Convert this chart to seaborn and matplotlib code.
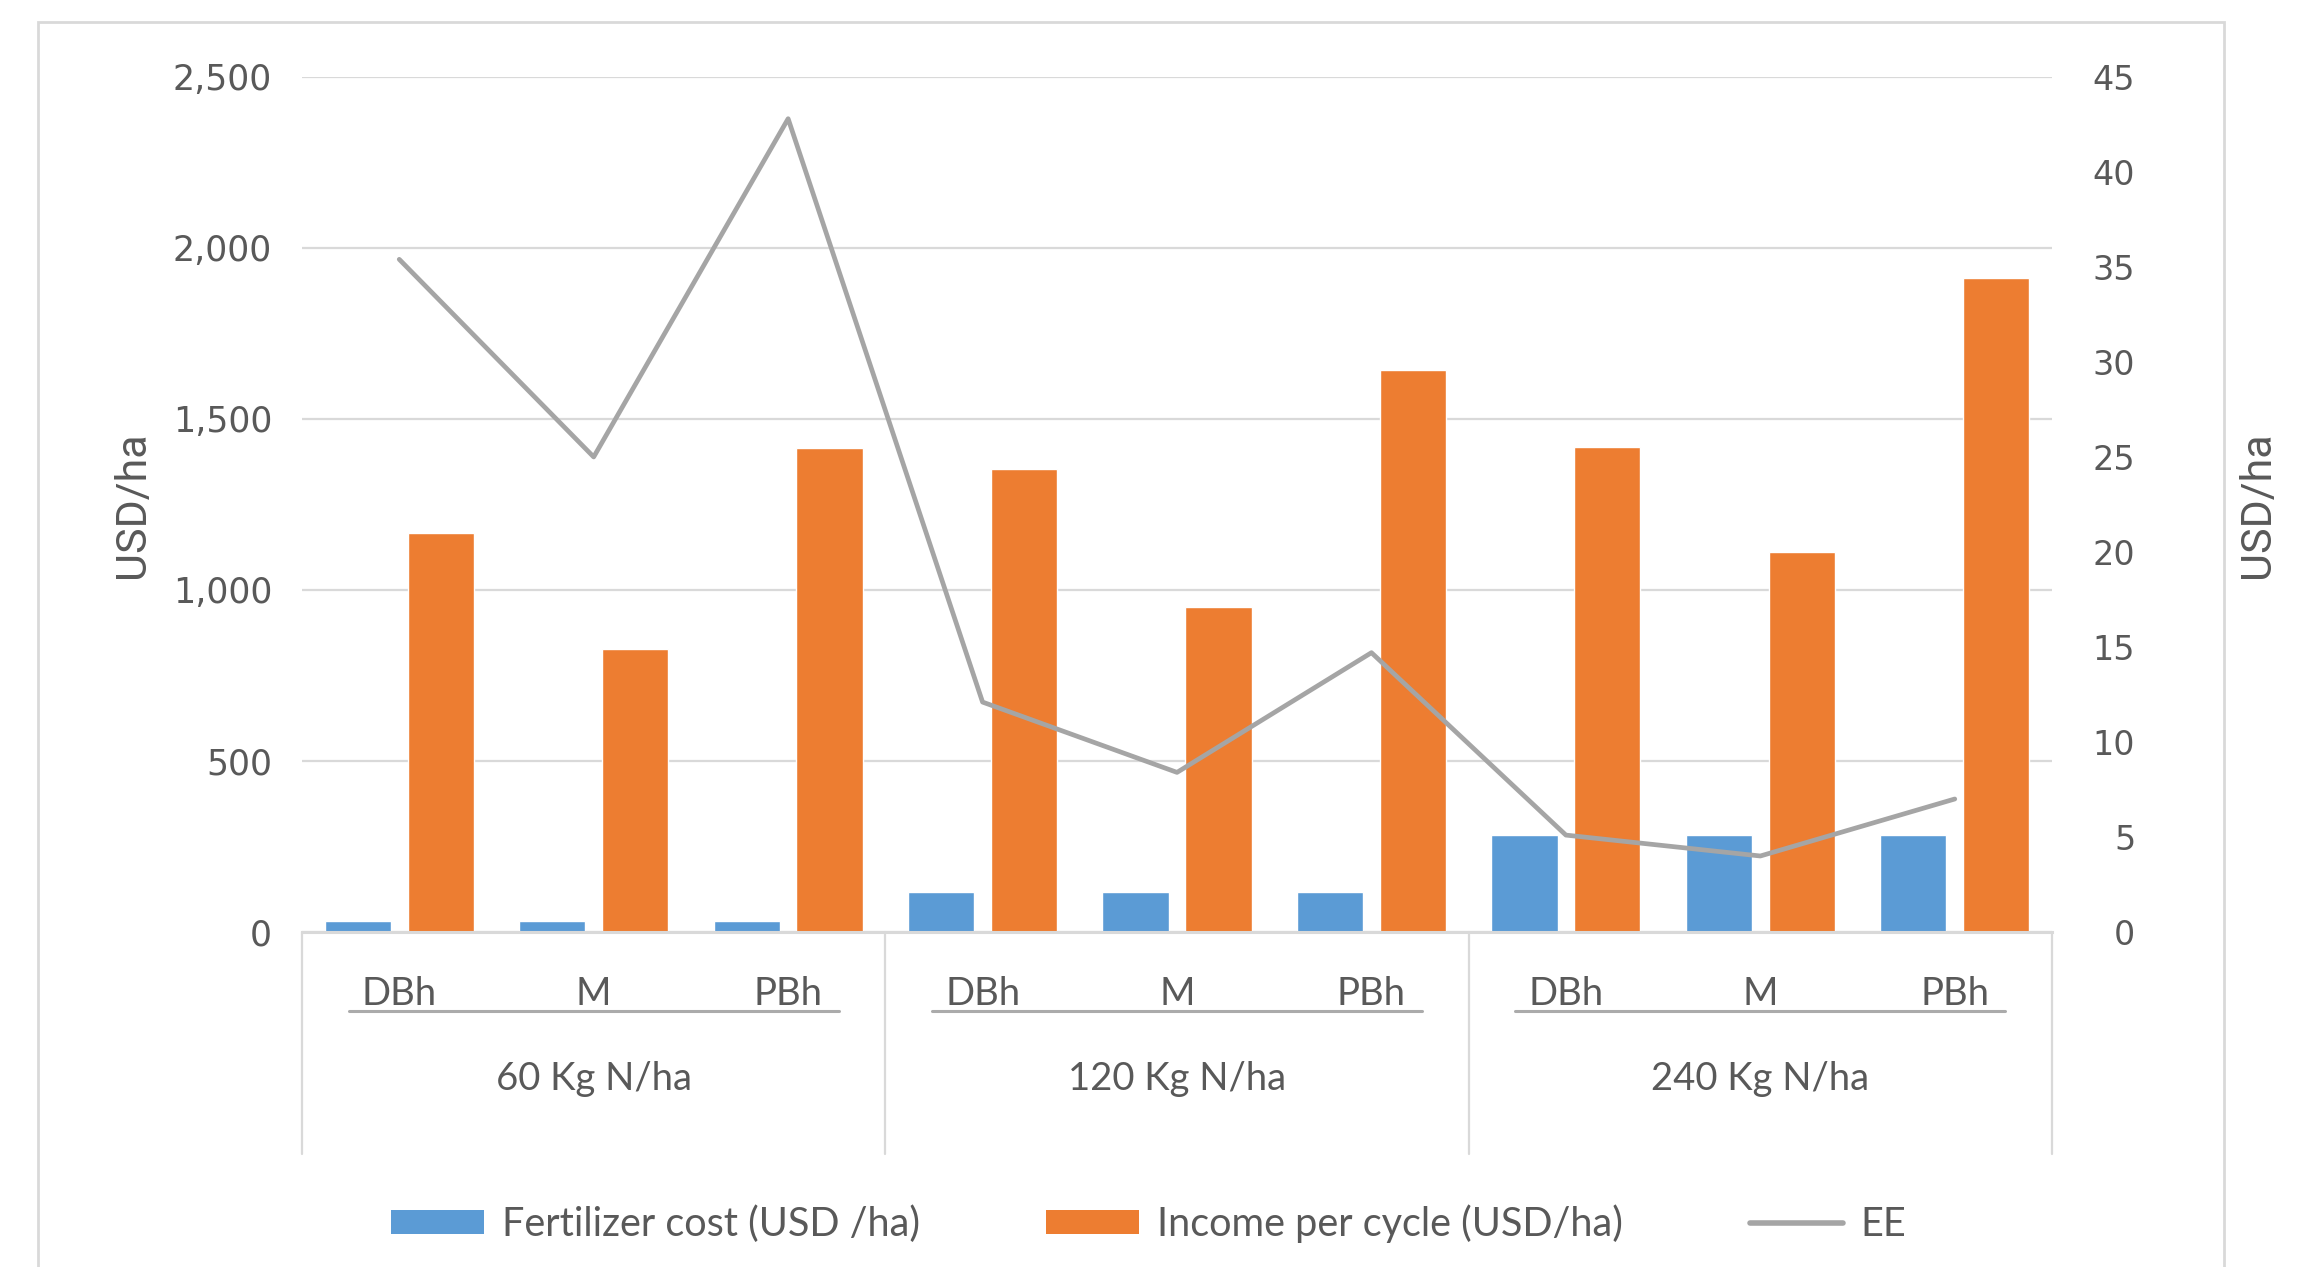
import numpy as np
import pandas as pd
import matplotlib
matplotlib.use("Agg")
import matplotlib.pyplot as plt
from matplotlib.patches import Patch, Rectangle
from matplotlib.lines import Line2D
import seaborn as sns

# ---- data ----
groups = ["60 Kg N/ha", "120 Kg N/ha", "240 Kg N/ha"]
systems = ["DBh", "M", "PBh"]
fert_cost = [33, 33, 33, 116, 116, 116, 284, 284, 284]
income = [1168, 826, 1416, 1354, 949, 1642, 1417, 1111, 1912]
ee = [35.4, 25.0, 42.8, 12.1, 8.4, 14.7, 5.1, 4.0, 7.0]
left_ticks = [0, 500, 1000, 1500, 2000, 2500]
right_ticks = [0, 5, 10, 15, 20, 25, 30, 35, 40, 45]

series_names = ["Fertilizer cost (USD /ha)", "Income per cycle (USD/ha)"]
line_name = "EE"

BLUE = "#5B9BD5"
ORANGE = "#ED7D31"
GREY = "#A5A5A5"
GRID = "#D9D9D9"
TXT = "#595959"

keys = [f"{g}|{s}" for g in groups for s in systems]
df = pd.DataFrame({
    "key": keys * 2,
    "series": [series_names[0]] * len(keys) + [series_names[1]] * len(keys),
    "value": fert_cost + income,
})

sns.set_theme(style="white")
plt.rcParams["font.family"] = ["DejaVu Sans"]

label_font = ["Roboto", "DejaVu Sans"]
cat_font = ["Lato", "DejaVu Sans"]

fig = plt.figure(figsize=(23.02, 12.67), dpi=100)
ax = fig.add_axes([0.1312, 0.2644, 0.7602, 0.6749])

sns.barplot(data=df, x="key", y="value", hue="series", order=keys,
            hue_order=series_names, palette=[BLUE, ORANGE],
            width=0.852, gap=0.2, saturation=1, legend=False, ax=ax,
            zorder=2)

ax.set_ylim(0, 2500)
ax.set_yticks(left_ticks)
ax.set_yticklabels([f"{v:,}" for v in left_ticks])
ax.yaxis.grid(True, color=GRID, lw=1.6, zorder=0)
ax.set_axisbelow(True)
ax.tick_params(axis="y", length=0, pad=21.5, labelsize=25, labelcolor=TXT)
ax.set_xticks(range(len(keys)))
ax.set_xticklabels([])
ax.tick_params(axis="x", length=0)
for side in ["top", "right", "left"]:
    ax.spines[side].set_visible(False)
ax.spines["bottom"].set_color(GRID)
ax.spines["bottom"].set_linewidth(2.2)
ax.set_xlabel("")
ax.set_ylabel("USD/ha", fontsize=31, color=TXT, labelpad=14, family=label_font)

# secondary axis with the EE line
ax2 = ax.twinx()
sns.lineplot(x=np.arange(len(keys)), y=ee, color=GREY, lw=3.4, ax=ax2,
             legend=False)
ax2.set_ylim(0, 45)
ax2.set_yticks(right_ticks)
ax2.set_yticklabels([str(v) for v in right_ticks])
ax2.tick_params(axis="y", length=0, pad=60, labelsize=24, labelcolor=TXT)
for t in ax2.get_yticklabels():
    t.set_horizontalalignment("right")
for side in ["top", "right", "left", "bottom"]:
    ax2.spines[side].set_visible(False)
ax2.grid(False)
ax2.set_ylabel("USD/ha", fontsize=31, color=TXT, labelpad=73, family=label_font)
ax.set_xlim(-0.5, len(keys) - 0.5)

# two-level category axis below the plot
tr = ax.get_xaxis_transform()
n = len(systems)
for gi, g in enumerate(groups):
    start = gi * n - 0.5
    end = start + n
    ax.plot([start, start], [0, -0.26], transform=tr, color=GRID, lw=1.6,
            clip_on=False)
    for si, s in enumerate(systems):
        ax.text(gi * n + si, -0.072, s, transform=tr, ha="center", va="center",
                fontsize=27.5, color=TXT, family=cat_font)
    ax.plot([start + 0.24, end - 0.24], [-0.092, -0.092], transform=tr,
            color="#ABABAB", lw=2.2, clip_on=False)
    ax.text(gi * n + (n - 1) / 2, -0.172, g, transform=tr, ha="center",
            va="center", fontsize=27.5, color=TXT, family=cat_font)
ax.plot([len(keys) - 0.5] * 2, [0, -0.26], transform=tr, color=GRID, lw=1.6,
        clip_on=False)

# legend
handles = [Patch(facecolor=BLUE, edgecolor="none"),
           Patch(facecolor=ORANGE, edgecolor="none"),
           Line2D([0], [0], color=GREY, lw=4)]
fig.legend(handles, series_names + [line_name], loc="center",
           bbox_to_anchor=(0.499, 0.034), ncol=3, frameon=False,
           prop={"family": cat_font, "size": 28.5}, labelcolor=TXT,
           handlelength=2.35, handleheight=0.55, handletextpad=0.45,
           columnspacing=3.2)

# chart area border
fig.add_artist(Rectangle((38 / 2302, -0.05), (2224 - 38) / 2302, 1.05 - 22 / 1267,
                         transform=fig.transFigure, fill=False,
                         edgecolor=GRID, lw=2))

fig.savefig("out.png", dpi=100, facecolor="white")
